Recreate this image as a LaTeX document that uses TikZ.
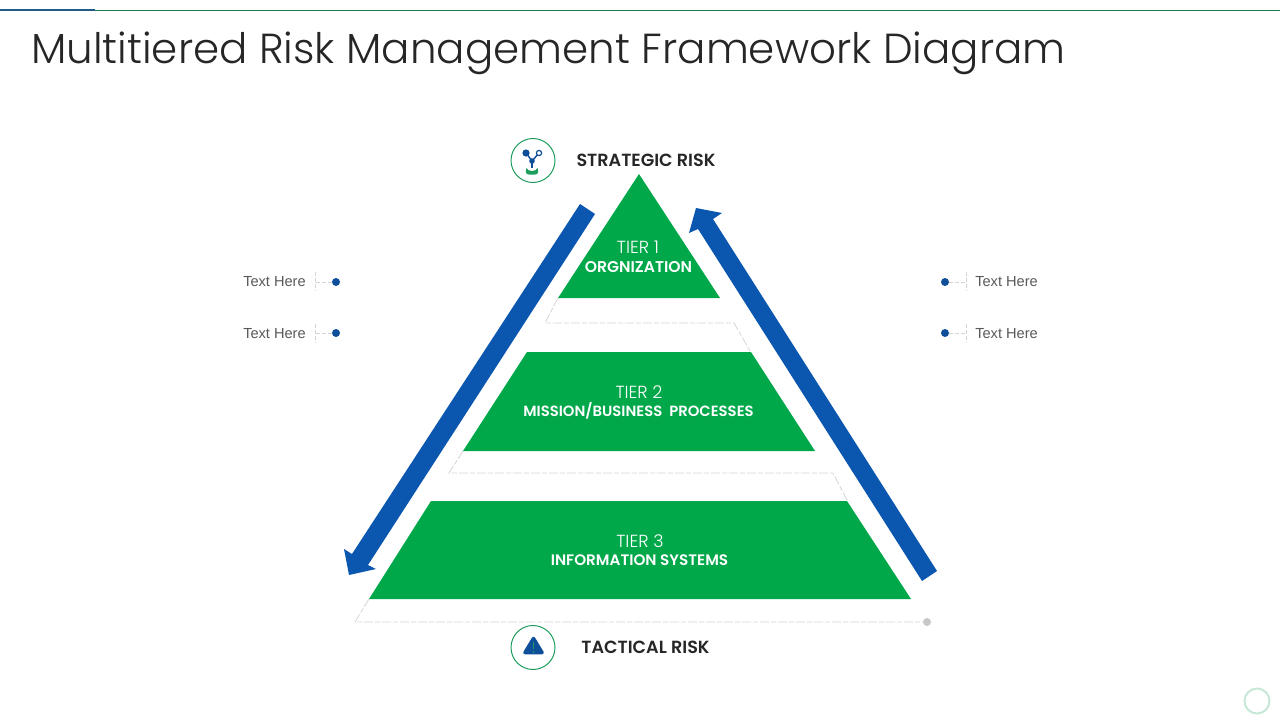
\documentclass[tikz,border=0pt]{standalone}
\usepackage{fontspec}
\setmainfont{Liberation Sans}
\newfontfamily\gothic{Poppins Light}
\newfontfamily\gothicb{Poppins SemiBold}
\definecolor{tiergreen}{HTML}{00A84A}
\definecolor{arrowblue}{HTML}{0B57AF}
\definecolor{dotblue}{HTML}{0F4F9A}
\definecolor{inkdark}{HTML}{262626}
\definecolor{ringgreen}{HTML}{1E9E5E}
\definecolor{dashgray}{HTML}{D4D4D4}
\definecolor{barblue}{HTML}{1F5C86}
\tikzset{
  tier/.style={fill=tiergreen,draw=none},
  bigarrow/.style={fill=arrowblue,draw=none},
  guide/.style={draw=dashgray,line width=0.8pt,dash pattern=on 9pt off 2pt on 5pt off 2pt},
  tick/.style={draw=dashgray,line width=0.8pt,dash pattern=on 4pt off 2pt},
  tierhead/.style={text=white,font=\gothic\fontsize{17.5}{20}\selectfont,inner sep=0pt,anchor=center},
  tiername/.style={text=white,inner sep=0pt,anchor=center},
  risk/.style={text=inkdark,font=\gothicb\fontsize{17.6}{22}\selectfont,inner sep=0pt,anchor=center},
  side/.style={text=black!65,font=\fontsize{14.6}{18}\selectfont,inner sep=0pt,anchor=center},
  dot/.style={circle,fill=dotblue,draw=none,minimum size=8pt,inner sep=0pt},
  ring/.style={circle,draw=ringgreen,line width=1pt,fill=white,minimum size=44pt,inner sep=0pt},
}
\begin{document}
\begin{tikzpicture}[x=1pt,y=-1pt]
\useasboundingbox (0,0) rectangle (1280,720);
% top rule
\draw[ringgreen!80!black,line width=1pt] (95,10.5) -- (1280,10.5);
\draw[barblue,line width=2pt] (0,10) -- (95,10);
% title
\node[anchor=west,inner sep=0pt,text=inkdark,font=\gothic\fontsize{42}{48}\selectfont] (title) at (31,53) {Multitiered Risk Management Framework Diagram};
% guides
\draw[guide] (558,298) -- (545,323) -- (734,323) -- (750,351);
\draw[guide] (463,451) -- (449,473) -- (833,473) -- (847,500);
\draw[guide] (369,599) -- (355,622) -- (927,622);
\node[circle,fill=black!22,minimum size=8pt,inner sep=0pt] (enddot) at (927,622) {};
% tiers
\fill[tier] (639,174) -- (720,298) -- (558,298) -- cycle;
\fill[tier] (527,352) -- (751,352) -- (815,451) -- (463,451) -- cycle;
\fill[tier] (431,501) -- (847,501) -- (911,599) -- (369,599) -- cycle;
% arrows
\fill[bigarrow] (580,204) -- (595,214) -- (368,565) -- (376,569) -- (349,575) -- (344,549) -- (352,554) -- cycle;
\fill[bigarrow] (937,571) -- (922,581) -- (698,229) -- (689,233) -- (696,208) -- (722,213) -- (713,219) -- cycle;
% tier labels
\node[tierhead] (t1a) at (638,247) {TIER 1};
\node[tiername,font=\gothicb\fontsize{15.6}{18}\selectfont] (t1b) at (638.5,267) {ORGNIZATION};
\node[tierhead] (t2a) at (639,392) {TIER 2};
\node[tiername,font=\gothicb\fontsize{14.8}{18}\selectfont] (t2b) at (638.5,411) {MISSION/BUSINESS\ \ PROCESSES};
\node[tierhead] (t3a) at (640,541) {TIER 3};
\node[tiername,font=\gothicb\fontsize{15.2}{18}\selectfont] (t3b) at (639.5,560) {INFORMATION SYSTEMS};
% risk labels and icons
\node[risk] (strategic) at (646,160) {STRATEGIC RISK};
\node[risk] (tactical) at (645.5,647) {TACTICAL RISK};
\node[ring] (icontop) at (533,160.5) {};
\node[ring] (iconbot) at (533,647.5) {};
% strategic icon
\draw[dotblue,line width=1.4pt] (526,153) -- (532,161) -- (539,153);
\fill[dotblue] (526,153) circle (3.6);
\draw[dotblue,line width=1.2pt,fill=white] (539,153) circle (2.6);
\fill[dotblue] (532,161) circle (2.8);
\draw[dotblue,line width=1.6pt] (532,161) -- (532,168);
\fill[ringgreen] (526.5,168) .. controls (528,172) and (536,172) .. (537.5,168) .. controls (539,172) and (538,174.5) .. (535,174.5) -- (529,174.5) .. controls (526,174.5) and (525,172) .. (526.5,168) -- cycle;
% tactical icon
\fill[dotblue,draw=dotblue,line width=3.5pt,line join=round] (533.5,638.5) -- (542,652.5) -- (525,652.5) -- cycle;
\draw[ringgreen,line width=1.3pt] (533.5,642) -- (533.5,649);
\fill[ringgreen] (533.5,652) circle (0.9);
% side callouts
\node[side] (l1) at (274.5,282) {Text Here};
\node[side] (l2) at (274.5,334) {Text Here};
\node[side] (r1) at (1006.5,282) {Text Here};
\node[side] (r2) at (1006.5,334) {Text Here};
\node[dot] (dl1) at (336,282) {};
\node[dot] (dl2) at (336,333) {};
\node[dot] (dr1) at (945,282) {};
\node[dot] (dr2) at (945,333) {};
\coordinate (tl1) at (315,282);
\coordinate (tl2) at (315,333);
\coordinate (tr1) at (966,282);
\coordinate (tr2) at (966,333);
\draw[tick] (dl1) -- (tl1);
\draw[tick] (dl2) -- (tl2);
\draw[tick] (dr1) -- (tr1);
\draw[tick] (dr2) -- (tr2);
\draw[tick] (315,272) -- (315,291);
\draw[tick] (315,324) -- (315,343);
\draw[tick] (966,272) -- (966,291);
\draw[tick] (966,324) -- (966,343);
% corner ring
\node[circle,draw=ringgreen!25,line width=2pt,minimum size=25pt,inner sep=0pt] (corner) at (1257,701) {};
\end{tikzpicture}
\end{document}
